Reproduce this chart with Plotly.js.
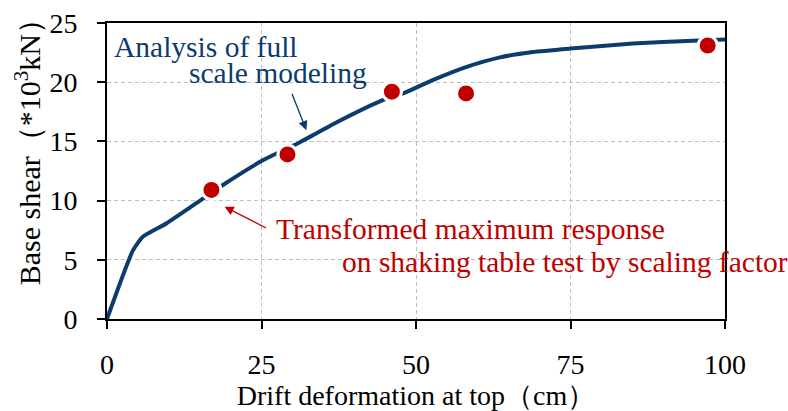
<!DOCTYPE html>
<html>
<head>
<meta charset="utf-8">
<script src="https://cdn.plot.ly/plotly-3.0.1.min.js"></script>
<style>html,body{margin:0;padding:0;background:#fff;}#chart{width:788px;height:411px;}</style>
</head>
<body>
<div id="chart"></div>
<script>
// Analysis curve (full scale modeling)
var curveX = [0, 4.2, 5.8, 9.6, 14.4, 18.7, 25.2, 30.9, 37.5, 44.7, 47.9, 52.8, 58.2, 63.6, 68.9, 75, 85.1, 94.8, 100];
var curveY = [0, 5.8, 6.95, 8.07, 9.76, 11.3, 13.4, 14.85, 16.7, 18.5, 19.05, 20.2, 21.3, 22.1, 22.55, 22.84, 23.26, 23.5, 23.6];
// Transformed maximum response on shaking table test
var testX = [16.9, 29.2, 46.1, 58.1, 97.2];
var testY = [10.9, 13.9, 19.2, 19.05, 23.1];
var xTicks = [0, 25, 50, 75, 100];
var yTicks = [0, 5, 10, 15, 20, 25];

var FONT = 'Liberation Serif, Times New Roman, serif';
var BLUE = '#0B3C6D';
var RED = '#C00000';

var traces = [
  {x: curveX, y: curveY, mode: 'lines', line: {color: BLUE, width: 4, shape: 'spline', smoothing: 0.5}, hoverinfo: 'skip'},
  {x: testX, y: testY, mode: 'markers', marker: {color: RED, size: 19, line: {color: '#fff', width: 3}}, hoverinfo: 'skip'}
];

var layout = {
  width: 788, height: 411,
  margin: {l: 107, r: 63, t: 23, b: 92},
  paper_bgcolor: '#fff', plot_bgcolor: '#fff',
  showlegend: false,
  font: {family: FONT, size: 28, color: '#000'},
  xaxis: {
    range: [0, 100], tickvals: xTicks, ticktext: xTicks.map(String),
    showline: true, linecolor: '#000', linewidth: 2, mirror: true,
    ticks: 'outside', ticklen: 8, tickwidth: 2, tickcolor: '#000',
    showgrid: true, gridcolor: '#bfbfbf', gridwidth: 1, griddash: '4px,3px',
    zeroline: false, ticklabelstandoff: 11,
    tickfont: {family: FONT, size: 28},
    title: {text: 'Drift deformation at top（cm）', font: {family: FONT, size: 28}, standoff: 5}
  },
  yaxis: {
    range: [0, 25], tickvals: yTicks, ticktext: yTicks.map(String),
    showline: true, linecolor: '#000', linewidth: 2, mirror: true,
    ticks: 'outside', ticklen: 8, tickwidth: 2, tickcolor: '#000',
    showgrid: true, gridcolor: '#bfbfbf', gridwidth: 1, griddash: '4px,3px',
    zeroline: false, ticklabelstandoff: 14,
    tickfont: {family: FONT, size: 28}
  },
  xaxis2: {range: [0, 100], overlaying: 'x', tickvals: xTicks, showticklabels: false, ticks: 'inside', ticklen: 8, tickwidth: 2, tickcolor: '#000', showgrid: false, showline: false, zeroline: false, anchor: 'y'},
  yaxis2: {range: [0, 25], overlaying: 'y', tickvals: yTicks, showticklabels: false, ticks: 'inside', ticklen: 8, tickwidth: 2, tickcolor: '#000', showgrid: false, showline: false, zeroline: false, anchor: 'x', side: 'left'},
  annotations: [
    {x: -0.128, y: 0.59, xref: 'paper', yref: 'paper', text: 'Base shear（*10<sup>3</sup>kN）', textangle: -90, showarrow: false, xanchor: 'center', yanchor: 'middle', font: {family: FONT, size: 30, color: '#000'}},
    {x: 0.8, y: 23.0, xref: 'x', yref: 'y', text: 'Analysis of full', showarrow: false, xanchor: 'left', yanchor: 'middle', font: {family: FONT, size: 29.5, color: BLUE}},
    {x: 13.0, y: 20.8, xref: 'x', yref: 'y', text: 'scale modeling', showarrow: false, xanchor: 'left', yanchor: 'middle', font: {family: FONT, size: 29.5, color: BLUE}},
    {x: 32.26, y: 15.95, xref: 'x', yref: 'y', text: '', showarrow: true, ax: -15, ay: -38, arrowcolor: BLUE, arrowwidth: 1.3, arrowhead: 2, arrowsize: 1.4},
    {x: 19.03, y: 9.48, xref: 'x', yref: 'y', text: '', showarrow: true, ax: 43, ay: 22, arrowcolor: RED, arrowwidth: 1.3, arrowhead: 2, arrowsize: 1.4},
    {x: 27.1, y: 7.6, xref: 'x', yref: 'y', text: 'Transformed maximum response', showarrow: false, xanchor: 'left', yanchor: 'middle', font: {family: FONT, size: 29.5, color: RED}},
    {x: 37.7, y: 4.8, xref: 'x', yref: 'y', text: 'on shaking table test by scaling factor', showarrow: false, xanchor: 'left', yanchor: 'middle', font: {family: FONT, size: 29.5, color: RED}}
  ]
};

Plotly.newPlot('chart', traces, layout, {staticPlot: true, displayModeBar: false});
</script>
</body>
</html>
